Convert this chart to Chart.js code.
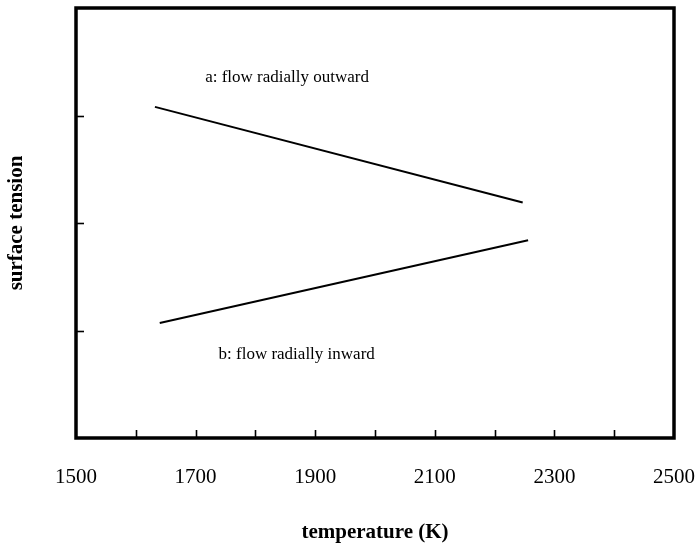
<!DOCTYPE html>
<html>
<head>
<meta charset="utf-8">
<script src="https://cdn.jsdelivr.net/npm/chart.js@4/dist/chart.umd.min.js"></script>
<style>
  html, body { margin: 0; padding: 0; background: #fff; }
  #wrap { width: 698px; height: 549px; }
</style>
</head>
<body>
<div id="wrap"><canvas id="tensionChart" width="698" height="549"></canvas></div>
<script>
// temperature (K) at both ends of each line, and the surface tension (arbitrary units)
const tempA = [1632, 2247];
const tensionA = [3.08, 2.19];
const tempB = [1640, 2256];
const tensionB = [1.07, 1.84];

const xMin = 1500, xMax = 2500, xStep = 100, xLabelStep = 200;
const yMin = 0, yMax = 4, yStep = 1;

// curve labels with their anchor in data units
const curveLabels = ['a: flow radially outward', 'b: flow radially inward'];
const labelTemps = [1853, 1869];
const labelTensions = [3.35, 0.78];

const SERIF = "'Liberation Serif', 'Times New Roman', serif";

function toPoints(xs, ys) {
    return xs.map((x, i) => ({ x: x, y: ys[i] }));
}

// frame around the plot area plus ticks pointing inward
const framePlugin = {
    id: 'frame',
    afterDraw(chart) {
        const { ctx, chartArea: a, scales } = chart;
        ctx.save();
        ctx.strokeStyle = '#000';
        ctx.lineWidth = 1.6;
        scales.x.ticks.forEach(t => {
            if (t.value <= xMin || t.value >= xMax) return;
            const px = Math.round(scales.x.getPixelForValue(t.value)) + 0.5;
            ctx.beginPath();
            ctx.moveTo(px, a.bottom);
            ctx.lineTo(px, a.bottom - 8);
            ctx.stroke();
        });
        scales.y.ticks.forEach(t => {
            if (t.value <= yMin || t.value >= yMax) return;
            const py = Math.round(scales.y.getPixelForValue(t.value)) + 0.5;
            ctx.beginPath();
            ctx.moveTo(a.left, py);
            ctx.lineTo(a.left + 8, py);
            ctx.stroke();
        });
        ctx.lineWidth = 3.5;
        ctx.strokeRect(a.left, a.top, a.right - a.left, a.bottom - a.top);

        ctx.fillStyle = '#000';
        ctx.font = '17px ' + SERIF;
        ctx.textAlign = 'center';
        ctx.textBaseline = 'middle';
        curveLabels.forEach((txt, i) => {
            ctx.fillText(txt,
                scales.x.getPixelForValue(labelTemps[i]),
                scales.y.getPixelForValue(labelTensions[i]));
        });
        ctx.restore();
    }
};

new Chart(document.getElementById('tensionChart'), {
    type: 'line',
    data: {
        datasets: [
            { data: toPoints(tempA, tensionA), borderColor: '#000', borderWidth: 2, pointRadius: 0, fill: false, tension: 0 },
            { data: toPoints(tempB, tensionB), borderColor: '#000', borderWidth: 2, pointRadius: 0, fill: false, tension: 0 }
        ]
    },
    options: {
        responsive: false,
        animation: false,
        events: [],
        layout: { padding: { top: 8, right: 24, left: 0, bottom: 0 } },
        plugins: { legend: { display: false }, tooltip: { enabled: false } },
        scales: {
            x: {
                type: 'linear',
                min: xMin,
                max: xMax,
                grid: { display: false, drawTicks: false },
                border: { display: false },
                afterFit(scale) {
                    scale.height = 111;
                    scale.paddingLeft = 0;
                    scale.paddingRight = 0;
                },
                ticks: {
                    stepSize: xStep,
                    autoSkip: false,
                    maxRotation: 0,
                    padding: 27,
                    color: '#000',
                    font: { family: SERIF, size: 21 },
                    callback: v => ((v - xMin) % xLabelStep === 0 ? String(v) : '')
                },
                title: {
                    display: true,
                    text: 'temperature (K)',
                    color: '#000',
                    font: { family: SERIF, size: 21, weight: 'bold' },
                    padding: { top: 0, bottom: 4 }
                }
            },
            y: {
                type: 'linear',
                min: yMin,
                max: yMax,
                grid: { display: false, drawTicks: false },
                border: { display: false },
                afterFit(scale) { scale.width = 76; },
                ticks: { stepSize: yStep, display: false },
                title: {
                    display: true,
                    text: 'surface tension',
                    color: '#000',
                    font: { family: SERIF, size: 21, weight: 'bold' },
                    padding: { top: 4, bottom: 0 }
                }
            }
        }
    },
    plugins: [framePlugin]
});
</script>
</body>
</html>
